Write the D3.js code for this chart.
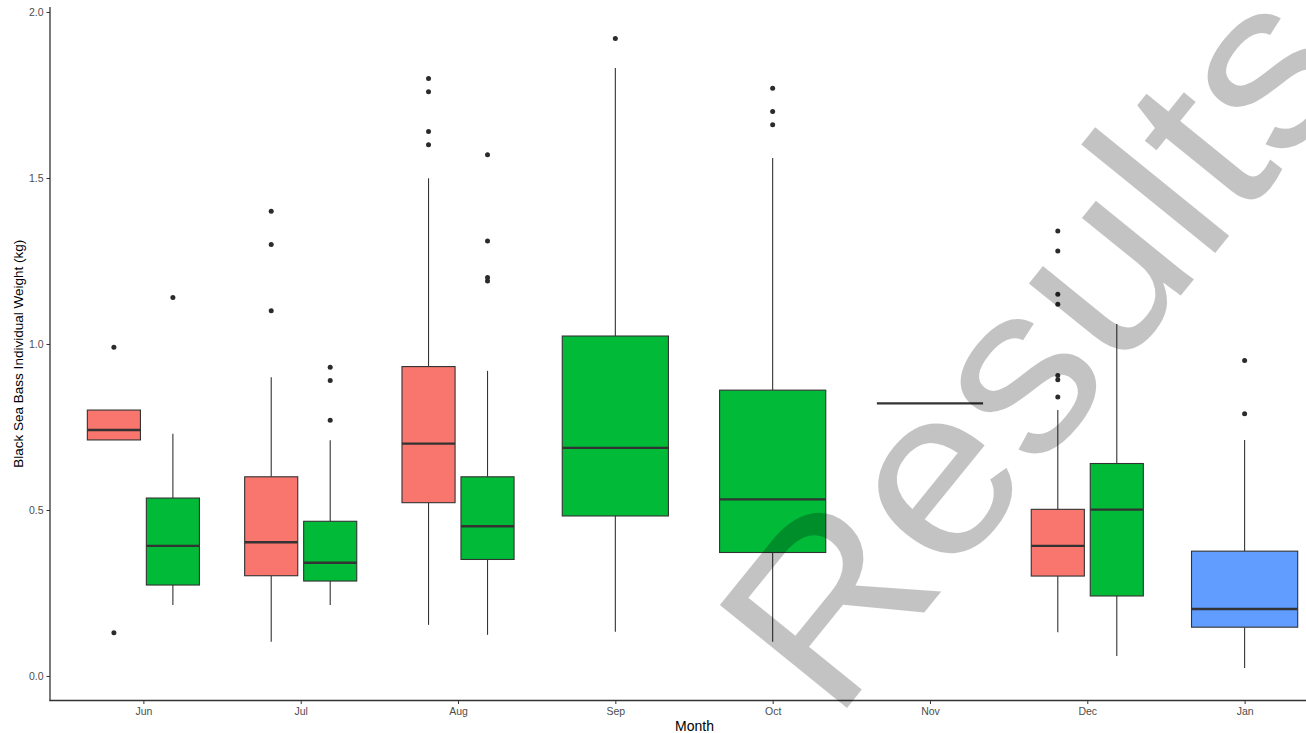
<!DOCTYPE html>
<html>
<head>
<meta charset="utf-8">
<script src="https://cdn.jsdelivr.net/npm/d3@7"></script>
<style>
  html, body { margin: 0; padding: 0; background: #ffffff; }
  svg { display: block; }
</style>
</head>
<body>
<svg id="chart" width="1306" height="733"></svg>
<script>
// Months on the x axis
const months = ["Jun", "Jul", "Aug", "Sep", "Oct", "Nov", "Dec", "Jan"];

// One entry per box: its month and fill group
const boxMonth = ["Jun", "Jun", "Jul", "Jul", "Aug", "Aug", "Sep", "Oct", "Nov", "Dec", "Dec", "Jan"];
const boxGroup = [0, 1, 0, 1, 0, 1, 1, 1, 1, 0, 1, 2];

// Box statistics (kg)
const q1          = [0.711, 0.274, 0.302, 0.286, 0.522, 0.351, 0.482, 0.372, 0.821, 0.301, 0.241, 0.147];
const median      = [0.741, 0.392, 0.403, 0.341, 0.700, 0.451, 0.687, 0.532, 0.821, 0.392, 0.501, 0.202];
const q3          = [0.801, 0.536, 0.600, 0.466, 0.932, 0.600, 1.024, 0.861, 0.821, 0.502, 0.640, 0.376];
const whiskerLow  = [0.711, 0.214, 0.103, 0.214, 0.154, 0.124, 0.133, 0.103, 0.821, 0.132, 0.060, 0.024];
const whiskerHigh = [0.801, 0.730, 0.900, 0.710, 1.499, 0.919, 1.831, 1.560, 0.821, 0.801, 1.060, 0.711];
const outliers = [
  [0.99, 0.13],
  [1.14],
  [1.40, 1.30, 1.10],
  [0.93, 0.89, 0.77],
  [1.80, 1.76, 1.64, 1.60],
  [1.57, 1.31, 1.20, 1.19],
  [1.92],
  [1.77, 1.70, 1.66],
  [],
  [1.34, 1.28, 1.15, 1.12, 0.905, 0.892, 0.84],
  [],
  [0.95, 0.79]
];

// Y axis ticks
const yTicks = [0, 0.5, 1.0, 1.5, 2.0];
const yTickLabels = ["0.0", "0.5", "1.0", "1.5", "2.0"];

const groupColors = ["#F8766D", "#00BA38", "#619CFF"];

const svg = d3.select("#chart");

const panel = { left: 50, right: 1339, top: 7, bottom: 700.5 };

const x = d3.scalePoint()
  .domain(months)
  .range([panel.left - 1, panel.right])
  .padding(0.6);

const y = d3.scaleLinear()
  .domain([-0.0738, 2.015])
  .range([panel.bottom, panel.top]);

const step = x.step();
const dodgeWidth = 0.75 * step;

// Boxes per month for dodging
const monthCount = {};
boxMonth.forEach(m => { monthCount[m] = (monthCount[m] || 0) + 1; });
const monthSeen = {};

const boxes = boxMonth.map((m, i) => {
  const n = monthCount[m];
  const k = monthSeen[m] || 0;
  monthSeen[m] = k + 1;
  const slot = dodgeWidth / n;
  const cx = x(m) - dodgeWidth / 2 + slot * (k + 0.5);
  return {
    month: m, group: boxGroup[i], cx, w: slot * 0.9,
    q1: q1[i], med: median[i], q3: q3[i],
    lo: whiskerLow[i], hi: whiskerHigh[i], out: outliers[i]
  };
});

const plot = svg.append("g");

const bx = plot.selectAll("g.box").data(boxes).join("g").attr("class", "box");

// Whiskers
bx.append("line")
  .attr("x1", d => d.cx).attr("x2", d => d.cx)
  .attr("y1", d => y(d.q3)).attr("y2", d => y(d.hi))
  .attr("stroke", "#333333").attr("stroke-width", 1.1);
bx.append("line")
  .attr("x1", d => d.cx).attr("x2", d => d.cx)
  .attr("y1", d => y(d.q1)).attr("y2", d => y(d.lo))
  .attr("stroke", "#333333").attr("stroke-width", 1.1);

// Boxes
bx.append("rect")
  .attr("x", d => d.cx - d.w / 2)
  .attr("width", d => d.w)
  .attr("y", d => y(d.q3))
  .attr("height", d => y(d.q1) - y(d.q3))
  .attr("fill", d => groupColors[d.group])
  .attr("stroke", "#333333")
  .attr("stroke-width", 1.1);

// Medians
bx.append("line")
  .attr("x1", d => d.cx - d.w / 2).attr("x2", d => d.cx + d.w / 2)
  .attr("y1", d => y(d.med)).attr("y2", d => y(d.med))
  .attr("stroke", "#333333").attr("stroke-width", 2.4);

// Outliers
bx.selectAll("circle").data(d => d.out.map(v => ({ cx: d.cx, v })))
  .join("circle")
  .attr("cx", d => d.cx)
  .attr("cy", d => y(d.v))
  .attr("r", 2.5)
  .attr("fill", "#2b2b2b");

// Axes
const axisColor = "#333333";
const tickText = "#4d4d4d";

const yAxis = svg.append("g")
  .attr("transform", `translate(${panel.left},0)`)
  .call(d3.axisLeft(y).tickValues(yTicks).tickFormat((d, i) => yTickLabels[i]).tickSize(3.5).tickPadding(3));
yAxis.select(".domain").remove();
yAxis.selectAll(".tick line").attr("stroke", axisColor).attr("stroke-width", 1);
yAxis.selectAll(".tick text")
  .attr("fill", tickText)
  .style("font-family", "'Liberation Sans', Arial, sans-serif")
  .style("font-size", "10.5px");

const xAxis = svg.append("g")
  .attr("transform", `translate(0,${panel.bottom})`)
  .call(d3.axisBottom(x).tickSize(3.5).tickPadding(4));
xAxis.select(".domain").remove();
xAxis.selectAll(".tick line").attr("stroke", axisColor).attr("stroke-width", 1);
xAxis.selectAll(".tick text")
  .attr("fill", tickText)
  .style("font-family", "'Liberation Sans', Arial, sans-serif")
  .style("font-size", "10.5px");

svg.append("line")
  .attr("x1", panel.left).attr("x2", panel.left)
  .attr("y1", panel.top).attr("y2", panel.bottom + 0.6)
  .attr("stroke", axisColor).attr("stroke-width", 1.3);
svg.append("line")
  .attr("x1", panel.left - 0.6).attr("x2", panel.right)
  .attr("y1", panel.bottom).attr("y2", panel.bottom)
  .attr("stroke", axisColor).attr("stroke-width", 1.3);

// Axis titles
svg.append("text")
  .attr("x", (panel.left + panel.right) / 2)
  .attr("y", 731)
  .attr("text-anchor", "middle")
  .attr("fill", "#000")
  .style("font-family", "'Liberation Sans', Arial, sans-serif")
  .style("font-size", "14px")
  .text("Month");

svg.append("text")
  .attr("transform", `translate(23,${(panel.top + panel.bottom) / 2}) rotate(-90)`)
  .attr("text-anchor", "middle")
  .attr("fill", "#000")
  .style("font-family", "'Liberation Sans', Arial, sans-serif")
  .style("font-size", "13.5px")
  .text("Black Sea Bass Individual Weight (kg)");

// Watermark
svg.append("text")
  .attr("transform", "translate(834,724) rotate(-51) scale(1.06,1)")
  .attr("fill", "rgba(0,0,0,0.235)")
  .style("font-family", "'Liberation Sans', Arial, sans-serif")
  .style("font-size", "238px")
  .text("Results");
</script>
</body>
</html>
